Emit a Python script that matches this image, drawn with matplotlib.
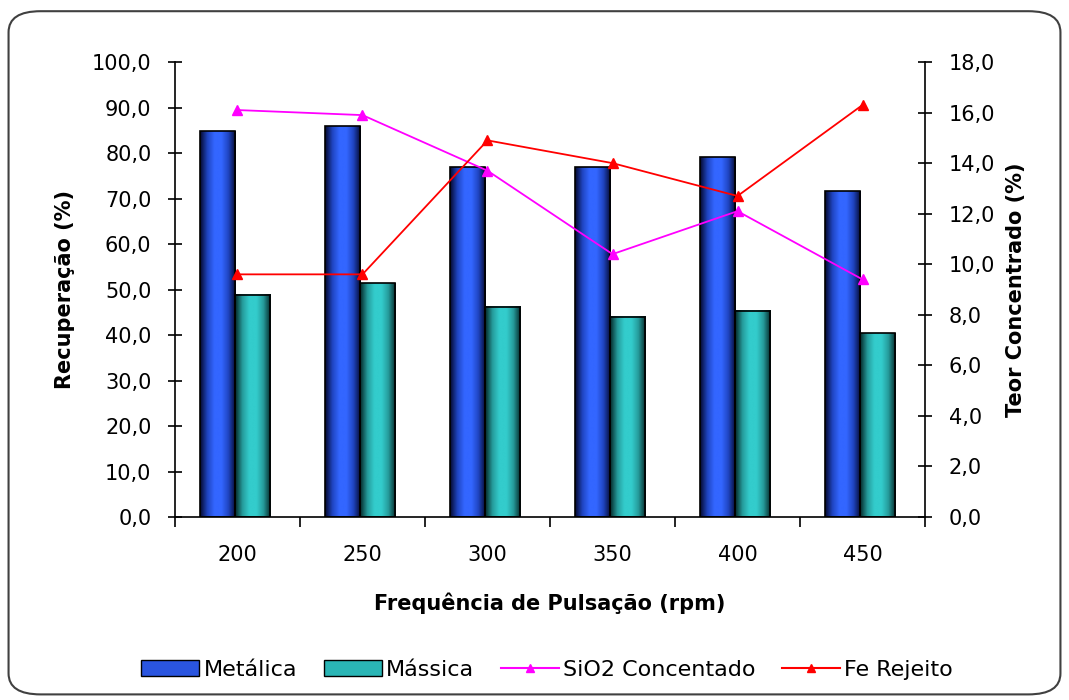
import numpy as np
import matplotlib.pyplot as plt
from matplotlib.patches import FancyBboxPatch
from matplotlib.lines import Line2D
from matplotlib.colors import LinearSegmentedColormap

plt.rcParams['font.family'] = ['DejaVu Sans']

freq = ['200', '250', '300', '350', '400', '450']
metalica = [84.8, 85.9, 76.9, 76.9, 79.1, 71.6]
massica = [48.8, 51.4, 46.2, 44.0, 45.3, 40.4]
sio2 = [16.1, 15.9, 13.7, 10.4, 12.1, 9.4]
fe = [9.6, 9.6, 14.9, 14.0, 12.7, 16.3]

cm_blue = LinearSegmentedColormap.from_list('b', ['#050a30', '#1f44c0', '#3366ff', '#3366ff', '#1f44c0', '#050a30'])
cm_teal = LinearSegmentedColormap.from_list('t', ['#052828', '#259a9a', '#33cccc', '#33cccc', '#259a9a', '#052828'])
grad = np.linspace(0, 1, 64).reshape(1, -1)


def gbar(ax, x, h, w, cmap):
    ax.imshow(grad, cmap=cmap, aspect='auto', extent=(x, x + w, 0, h), zorder=2)
    ax.add_patch(plt.Rectangle((x, 0), w, h, fill=False, ec='black', lw=1.2, zorder=3))


fig = plt.figure(figsize=(10.69, 7), dpi=100)
fig.patches.append(FancyBboxPatch((0.008, 0.008), 0.984, 0.976, boxstyle='round,pad=0,rounding_size=0.03',
                                  transform=fig.transFigure, fc='none', ec='#404040', lw=1.5))
ax = fig.add_axes([0.1637, 0.2614, 0.7016, 0.65])
x = np.arange(len(freq))
w = 0.28
for i in x:
    gbar(ax, i - w - 0.02, metalica[i], w, cm_blue)
    gbar(ax, i - 0.02, massica[i], w, cm_teal)
ax.set_xlim(-0.5, len(freq) - 0.5)
ax.set_ylim(0, 100)
ax.set_yticks(np.arange(0, 101, 10))
ax.set_yticklabels([f'{v:.1f}'.replace('.', ',') for v in np.arange(0, 101, 10)])
ax.set_xticks(x)
ax.set_xticklabels(freq)
ax.set_xticks(np.arange(-0.5, len(freq)), minor=True)
ax.tick_params(axis='x', which='major', length=0, pad=20, labelsize=15)
ax.tick_params(axis='x', which='minor', length=7, direction='out', width=1.2)
ax.tick_params(axis='y', direction='inout', length=10, width=1.2, labelsize=15, pad=12)
for s in ['top', 'right']:
    ax.spines[s].set_visible(False)
for s in ['left', 'bottom']:
    ax.spines[s].set_linewidth(1.2)
ax.set_xlabel('Frequência de Pulsação (rpm)', fontsize=15, fontweight='bold', labelpad=20)
ax.set_ylabel('Recuperação (%)', fontsize=15, fontweight='bold', labelpad=12)

ax2 = ax.twinx()
ax2.plot(x, sio2, color='#ff00ff', marker='^', ms=7, lw=1.3, zorder=4)
ax2.plot(x, fe, color='#ff0000', marker='^', ms=7, lw=1.3, zorder=4)
ax2.set_ylim(0, 18)
ax2.set_yticks(np.arange(0, 18.1, 2))
ax2.set_yticklabels([f'{v:.1f}'.replace('.', ',') for v in np.arange(0, 18.1, 2)])
ax2.tick_params(axis='y', direction='inout', length=10, width=1.2, labelsize=15, pad=12)
for s in ['top', 'left', 'bottom']:
    ax2.spines[s].set_visible(False)
ax2.spines['right'].set_linewidth(1.2)
ax2.set_ylabel('Teor Concentrado (%)', fontsize=15, fontweight='bold', labelpad=8)

handles = [plt.Rectangle((0, 0), 1, 1, fc='#2a55e0', ec='black'),
           plt.Rectangle((0, 0), 1, 1, fc='#2ab5b5', ec='black'),
           Line2D([], [], color='#ff00ff', marker='^', ms=6, lw=1.5),
           Line2D([], [], color='#ff0000', marker='^', ms=6, lw=1.5)]
fig.legend(handles, ['Metálica', 'Mássica', 'SiO2 Concentado', 'Fe Rejeito'], loc='center',
           bbox_to_anchor=(0.512, 0.043), ncol=4, frameon=False, fontsize=16,
           handlelength=2.6, handletextpad=0.2, columnspacing=1.2)

fig.savefig('out.png', dpi=100)
